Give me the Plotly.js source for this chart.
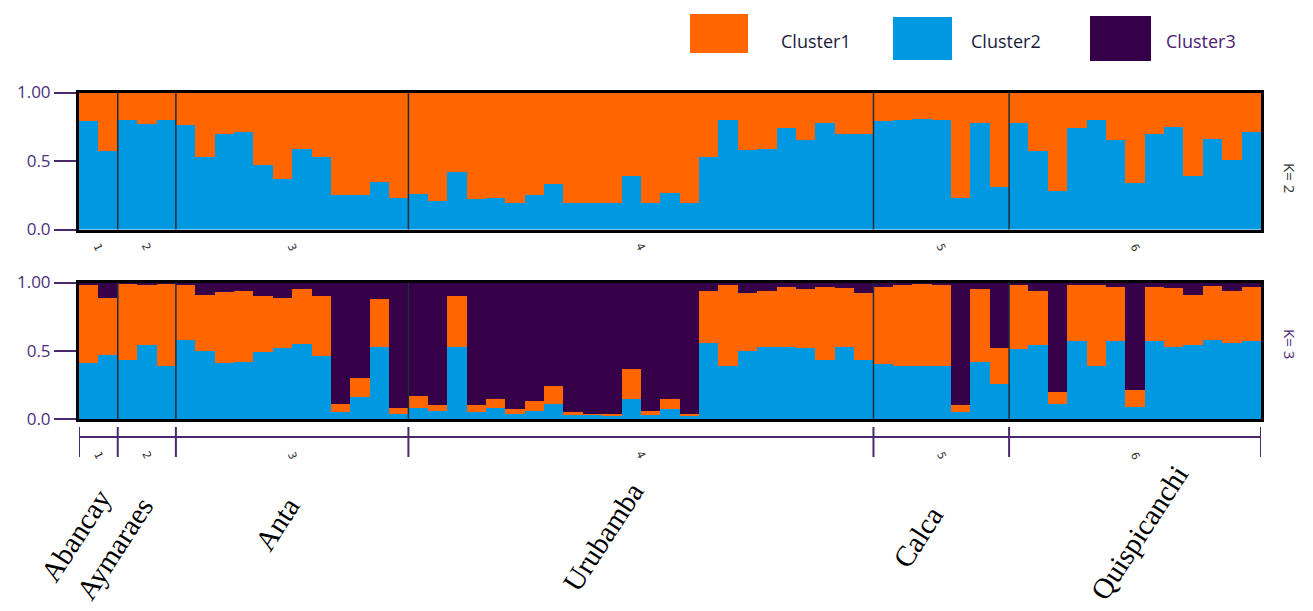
<!DOCTYPE html>
<html>
<head>
<meta charset="utf-8">
<script src="https://cdn.plot.ly/plotly-3.0.1.min.js"></script>
<style>html,body{margin:0;padding:0;background:#fff;}#chart{width:1313px;height:611px;}</style>
</head>
<body>
<div id="chart"></div>
<script>
// ---------------- DATA ----------------
const populations = ['Abancay', 'Aymaraes', 'Anta', 'Urubamba', 'Calca', 'Quispicanchi'];
const populationNumbers = ['1', '2', '3', '4', '5', '6'];
const populationSizes = [2, 3, 12, 24, 7, 13];
const clusterNames = ['Cluster1', 'Cluster2', 'Cluster3'];

// K = 2 membership
const k2_cluster2 = [0.79, 0.57,
  0.80, 0.77, 0.80,
  0.76, 0.53, 0.70, 0.71, 0.47, 0.37, 0.59, 0.53, 0.25, 0.25, 0.35, 0.23,
  0.26, 0.21, 0.42, 0.22, 0.23, 0.19, 0.25, 0.33, 0.19, 0.19, 0.19, 0.39,
  0.19, 0.27, 0.19, 0.53, 0.80, 0.58, 0.59, 0.74, 0.65, 0.78, 0.70, 0.70,
  0.79, 0.80, 0.81, 0.80, 0.23, 0.78, 0.31,
  0.78, 0.57, 0.28, 0.74, 0.80, 0.65, 0.34, 0.70, 0.75, 0.39, 0.66, 0.51, 0.71];
const k2_cluster1 = [0.21, 0.43,
  0.20, 0.23, 0.20,
  0.24, 0.47, 0.30, 0.29, 0.53, 0.63, 0.41, 0.47, 0.75, 0.75, 0.65, 0.77,
  0.74, 0.79, 0.58, 0.78, 0.77, 0.81, 0.75, 0.67, 0.81, 0.81, 0.81, 0.61,
  0.81, 0.73, 0.81, 0.47, 0.20, 0.42, 0.41, 0.26, 0.35, 0.22, 0.30, 0.30,
  0.21, 0.20, 0.19, 0.20, 0.77, 0.22, 0.69,
  0.22, 0.43, 0.72, 0.26, 0.20, 0.35, 0.66, 0.30, 0.25, 0.61, 0.34, 0.49, 0.29];

// K = 3 membership
const k3_cluster2 = [0.41, 0.47,
  0.43, 0.54, 0.39,
  0.58, 0.50, 0.41, 0.42, 0.49, 0.52, 0.55, 0.46, 0.05, 0.16, 0.53, 0.04,
  0.08, 0.06, 0.53, 0.05, 0.08, 0.04, 0.06, 0.11, 0.03, 0.03, 0.02, 0.15,
  0.03, 0.07, 0.025, 0.56, 0.39, 0.50, 0.53, 0.53, 0.52, 0.43, 0.53, 0.43,
  0.40, 0.39, 0.39, 0.39, 0.05, 0.42, 0.26,
  0.51, 0.54, 0.11, 0.57, 0.39, 0.57, 0.09, 0.57, 0.53, 0.54, 0.58, 0.56, 0.57];
const k3_cluster1 = [0.57, 0.42,
  0.56, 0.44, 0.60,
  0.40, 0.41, 0.52, 0.52, 0.41, 0.37, 0.40, 0.44, 0.06, 0.14, 0.35, 0.04,
  0.09, 0.04, 0.37, 0.05, 0.07, 0.03, 0.07, 0.13, 0.02, 0.01, 0.015, 0.22,
  0.025, 0.08, 0.015, 0.38, 0.595, 0.42, 0.41, 0.44, 0.43, 0.54, 0.43, 0.49,
  0.57, 0.595, 0.60, 0.59, 0.05, 0.53, 0.26,
  0.47, 0.40, 0.09, 0.41, 0.59, 0.40, 0.12, 0.40, 0.43, 0.37, 0.395, 0.38, 0.40];
const k3_cluster3 = [0.02, 0.11,
  0.01, 0.02, 0.01,
  0.02, 0.09, 0.07, 0.06, 0.10, 0.11, 0.05, 0.10, 0.89, 0.70, 0.12, 0.92,
  0.83, 0.90, 0.10, 0.90, 0.85, 0.93, 0.87, 0.76, 0.95, 0.96, 0.965, 0.63,
  0.945, 0.85, 0.96, 0.06, 0.015, 0.08, 0.06, 0.03, 0.05, 0.03, 0.04, 0.08,
  0.03, 0.015, 0.01, 0.02, 0.90, 0.05, 0.48,
  0.02, 0.06, 0.80, 0.02, 0.02, 0.03, 0.79, 0.03, 0.04, 0.09, 0.025, 0.06, 0.03];

// ---------------- STYLE ----------------
const COL1 = '#ff6600', COL2 = '#0098e0', COL3 = '#360048';
const W = 1313, H = 611;
const px = v => v / W;
const py = v => 1 - v / H;

const sampleIndex = k2_cluster2.map((_, i) => i);

// population boundaries in sample-index units
const bounds = [-0.5];
populationSizes.forEach(s => bounds.push(bounds[bounds.length - 1] + s));
const centers = populationSizes.map((s, i) => bounds[i] + s / 2);

function bar(y, color, name, xa, ya) {
  return {type: 'bar', x: sampleIndex, y: y, name: name, xaxis: xa, yaxis: ya,
    marker: {color: color, line: {width: 0}}, width: 1, hoverinfo: 'skip'};
}

const data = [
  bar(k2_cluster2, COL2, clusterNames[1], 'x', 'y'),
  bar(k2_cluster1, COL1, clusterNames[0], 'x', 'y'),
  bar(k3_cluster2, COL2, clusterNames[1], 'x2', 'y2'),
  bar(k3_cluster1, COL1, clusterNames[0], 'x2', 'y2'),
  bar(k3_cluster3, COL3, clusterNames[2], 'x2', 'y2')
];

const tickFont = {family: 'Open Sans, Noto Sans, sans-serif', size: 17, color: '#4b2f7f'};
function xax(anchor) {
  return {anchor: anchor, domain: [px(79), px(1261)], range: [-0.5, sampleIndex.length - 0.5],
    showticklabels: false, showgrid: false, zeroline: false, ticks: '',
    showline: true, mirror: true, linewidth: 3, linecolor: '#000', fixedrange: true};
}
function yax(anchor, dom) {
  return {anchor: anchor, domain: dom, range: [0, 1],
    tickvals: [0, 0.5, 1], ticktext: ['0.0', '0.5', '1.00'],
    ticks: 'outside', ticklen: 22, tickwidth: 2, tickcolor: '#4a2a6a', tickfont: tickFont,
    showline: true, mirror: true, linewidth: 3, linecolor: '#000',
    showgrid: false, zeroline: false, fixedrange: true};
}

const shapes = [];
const annotations = [];

// separators inside the panels
bounds.slice(1, -1).forEach(b => {
  ['y', 'y2'].forEach((ya, k) => {
    shapes.push({type: 'line', xref: k ? 'x2' : 'x', yref: ya + ' domain', x0: b, x1: b, y0: 0, y1: 1,
      line: {color: '#1d2d3a', width: 1.5}});
  });
});

// bracket axis below bottom panel
shapes.push({type: 'line', xref: 'x2', yref: 'paper', x0: bounds[0], x1: bounds[bounds.length - 1],
  y0: py(437), y1: py(437), line: {color: '#4a2a6a', width: 2}});
bounds.forEach(b => {
  shapes.push({type: 'line', xref: 'x2', yref: 'paper', x0: b, x1: b, y0: py(427), y1: py(457),
    line: {color: '#4a2a6a', width: 2}});
});

// small population numbers
const smallFont = {family: 'DejaVu Sans, sans-serif', size: 11, color: '#333'};
centers.forEach((c, i) => {
  annotations.push({xref: 'x', yref: 'paper', x: c, y: py(247), text: populationNumbers[i],
    showarrow: false, textangle: 65, font: smallFont});
  annotations.push({xref: 'x2', yref: 'paper', x: c, y: py(464), text: populationNumbers[i],
    showarrow: false, textangle: 65, font: smallFont});
});

// large population names
const nameCenters = [[76, 535], [115, 548], [277, 524], [603, 537], [918, 537], [1139, 533]];
populations.forEach((p, i) => {
  annotations.push({xref: 'paper', yref: 'paper', x: px(nameCenters[i][0]), y: py(nameCenters[i][1]),
    xanchor: 'center', yanchor: 'middle', text: p, showarrow: false, textangle: -57,
    font: {family: 'Liberation Serif, Times New Roman, serif', size: 29, color: '#000'}});
});

// K labels
annotations.push({xref: 'paper', yref: 'paper', x: px(1302), y: py(161), text: 'K= 2', showarrow: false,
  textangle: 90, font: {family: 'Open Sans, sans-serif', size: 15, color: '#333'}});
annotations.push({xref: 'paper', yref: 'paper', x: px(1302), y: py(344), text: 'K= 3', showarrow: false,
  textangle: 90, font: {family: 'Open Sans, sans-serif', size: 15, color: '#4a2a7a'}});

// legend
const legendItems = [
  {name: clusterNames[0], color: COL1, box: [690, 14, 748, 53], tx: 816, tcol: '#1a1a3a'},
  {name: clusterNames[1], color: COL2, box: [893, 17, 952, 60], tx: 1006, tcol: '#1a1a3a'},
  {name: clusterNames[2], color: COL3, box: [1090, 16, 1151, 61], tx: 1201, tcol: '#4a2070'}
];
legendItems.forEach(it => {
  shapes.push({type: 'rect', xref: 'paper', yref: 'paper', x0: px(it.box[0]), x1: px(it.box[2]),
    y0: py(it.box[3]), y1: py(it.box[1]), fillcolor: it.color, line: {width: 0}});
  annotations.push({xref: 'paper', yref: 'paper', x: px(it.tx), y: py(41), xanchor: 'center', yanchor: 'middle',
    text: it.name, showarrow: false, font: {family: 'Open Sans, sans-serif', size: 18, color: it.tcol}});
});

const layout = {
  width: W, height: H,
  margin: {l: 0, r: 0, t: 0, b: 0},
  paper_bgcolor: '#fff', plot_bgcolor: '#fff',
  barmode: 'stack', bargap: 0, showlegend: false,
  xaxis: xax('y'), yaxis: yax('x', [py(229.5), py(92.5)]),
  xaxis2: xax('y2'), yaxis2: yax('x2', [py(419), py(282.5)]),
  shapes: shapes, annotations: annotations
};

Plotly.newPlot('chart', data, layout, {staticPlot: true, displayModeBar: false});
</script>
</body>
</html>
